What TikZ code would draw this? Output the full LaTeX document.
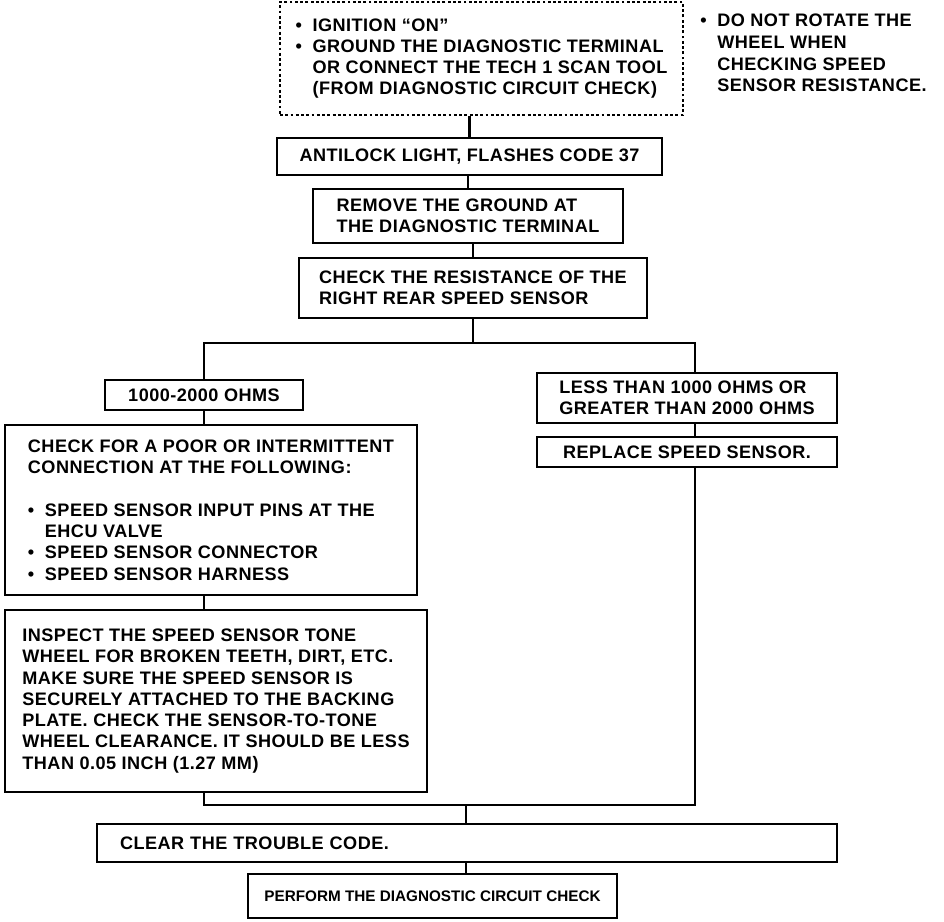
\documentclass[tikz,border=0pt]{standalone}
\usepackage{fontspec}
\setmainfont{Liberation Sans}[LetterSpace=2.6]
\usetikzlibrary{positioning}

\newcommand{\blt}{\makebox[0.34cm][l]{\textbullet}}
\newcommand{\ind}{\hspace*{0.34cm}}

\begin{document}
\begin{tikzpicture}[x=0.02cm, y=-0.02cm,
    box/.style={rectangle, draw, line width=1.3pt, align=left, inner sep=0pt,
                font=\bfseries\fontsize{10.3}{12.1}\selectfont},
    size/.style 2 args={minimum width=#1*0.02cm, minimum height=#2*0.02cm},
    note/.style={align=left, inner sep=0pt, font=\bfseries\fontsize{10.3}{12.3}\selectfont},
    link/.style={line width=1.3pt}
]
\useasboundingbox (0,0) rectangle (944,922);

% Main column
\node[box, size={403}{113}, line width=0.9pt, dash pattern=on 1.6pt off 1.4pt] (start) at (481.5,58.5)
     {\blt IGNITION ``ON''\\
      \blt GROUND THE DIAGNOSTIC TERMINAL\\
      \ind OR CONNECT THE TECH 1 SCAN TOOL\\
      \ind (FROM DIAGNOSTIC CIRCUIT CHECK)};
\node[note, anchor=north west] (caution) at (700,14)
     {\blt DO NOT ROTATE THE\\
      \ind WHEEL WHEN\\
      \ind CHECKING SPEED\\
      \ind SENSOR RESISTANCE.};
\node[box, size={385}{37}] (code37) at (469.5,156.5) {ANTILOCK LIGHT, FLASHES CODE 37};
\node[box, size={310}{54}] (ground) at (468,216) {REMOVE THE GROUND AT\\THE DIAGNOSTIC TERMINAL};
\node[box, size={348}{60}] (resist) at (473,288) {CHECK THE RESISTANCE OF THE\\RIGHT REAR SPEED SENSOR};

% Left branch
\node[box, size={198}{30}] (ok) at (204,395) {1000-2000 OHMS};
\node[box, size={412}{170}] (poor) at (211,510)
     {CHECK FOR A POOR OR INTERMITTENT\\
      CONNECTION AT THE FOLLOWING:\\[12.1pt]
      \blt SPEED SENSOR INPUT PINS AT THE\\
      \ind EHCU VALVE\\
      \blt SPEED SENSOR CONNECTOR\\
      \blt SPEED SENSOR HARNESS};
\node[box, size={422}{182}] (inspect) at (216,701)
     {INSPECT THE SPEED SENSOR TONE\\
      WHEEL FOR BROKEN TEETH, DIRT, ETC.\\
      MAKE SURE THE SPEED SENSOR IS\\
      SECURELY ATTACHED TO THE BACKING\\
      PLATE. CHECK THE SENSOR-TO-TONE\\
      WHEEL CLEARANCE. IT SHOULD BE LESS\\
      THAN 0.05 INCH (1.27 MM)};

% Right branch
\node[box, size={300}{50}] (outrange) at (687,398) {LESS THAN 1000 OHMS OR\\GREATER THAN 2000 OHMS};
\node[box, size={300}{30}] (replace) at (687,452) {REPLACE SPEED SENSOR.};

% Bottom
\node[box, size={740}{38}, text width=694*0.02cm, inner xsep=23*0.02cm] (clear) at (467,843) {CLEAR THE TROUBLE CODE.};
\node[box, size={369}{44}, font=\bfseries\fontsize{8.7}{10}\selectfont\addfontfeature{LetterSpace=0}] (perform) at (432.5,896) {PERFORM THE DIAGNOSTIC CIRCUIT CHECK};

% Connectors
\coordinate (fork) at (473,343);
\coordinate (rtop) at (695,343);
\coordinate (join) at (466,805);
\draw[link] (start.south -| code37.north) -- (code37.north);
\draw[link] (code37.south -| ground.north) -- (ground.north);
\draw[link] (ground.south -| resist.north) -- (resist.north);
\draw[link] (resist.south -| fork) -- (fork);
\draw[link] (ok.north) |- (rtop) -- (rtop |- outrange.north);
\draw[link] (rtop |- outrange.south) -- (rtop |- replace.north);
\draw[link] (ok.south) -- (ok.south |- poor.north);
\draw[link] (ok.south |- poor.south) -- (ok.south |- inspect.north);
\draw[link] (ok.south |- inspect.south) |- (rtop |- join) -- (rtop |- replace.south);
\draw[link] (join) -- (join |- clear.north);
\draw[link] (join |- clear.south) -- (join |- perform.north);

\end{tikzpicture}
\end{document}
